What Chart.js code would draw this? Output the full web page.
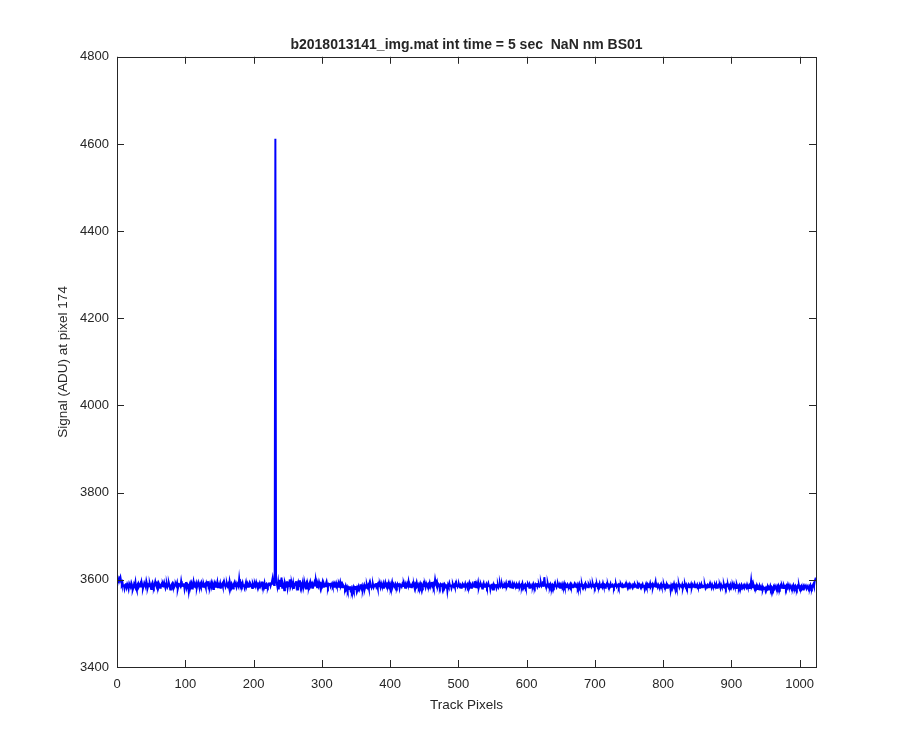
<!DOCTYPE html>
<html>
<head>
<meta charset="utf-8">
<script src="https://cdn.jsdelivr.net/npm/chart.js@4"></script>
<style>
  html, body { margin: 0; padding: 0; background: #fff; }
  #wrap { width: 900px; height: 750px; }
</style>
</head>
<body>
<div id="wrap"><canvas id="plot" width="900" height="750"></canvas></div>
<script>
// Signal (ADU) along the track, one value per pixel
const signal = [
  3592,3598,3604,3601,3606,3597,3590,3594,3585,3589,3580,3588,3592,3583,3590,3586,3579,3591,3587,3584,3593,3588,3577,3582,3590,3586,3595,3581,3576,3589,3592,3584,
  3587,3591,3583,3595,3588,3580,3586,3593,3589,3584,3597,3590,3582,3588,3585,3592,3586,3579,3590,3594,3587,3583,3589,3596,3588,3584,3591,3586,3593,3589,3582,3587,
  3590,3585,3592,3588,3594,3586,3581,3589,3591,3584,3588,3593,3587,3578,3585,3589,3592,3586,3590,3584,3588,3591,3587,3593,3579,3586,3590,3588,3585,3597,3587,3589,
  3586,3592,3579,3588,3595,3583,3590,3587,3574,3589,3593,3585,3591,3580,3588,3596,3584,3590,3586,3592,3582,3589,3594,3587,3581,3590,3585,3593,3588,3584,3591,3586,
  3589,3583,3592,3587,3597,3585,3590,3582,3588,3594,3586,3591,3579,3588,3593,3584,3590,3587,3595,3583,3589,3586,3592,3580,3588,3591,3585,3593,3587,3590,3584,3589,
  3592,3586,3590,3583,3597,3589,3585,3591,3587,3580,3590,3594,3586,3588,3583,3592,3589,3585,3602,3588,3584,3591,3587,3593,3585,3590,3582,3588,3595,3586,3591,3584,
  3589,3593,3585,3590,3587,3581,3592,3588,3584,3591,3586,3594,3588,3583,3590,3587,3592,3585,3589,3596,3584,3590,3586,3593,3581,3589,3591,3587,3584,3590,3588,3594,
  3586,3591,3596,3604,3592,3588,3590,4612,3594,3593,3584,3595,3578,3600,3586,3589,3605,3582,3592,3587,3576,3594,3589,3584,3597,3581,3590,3586,3601,3583,3588,3592,
  3585,3593,3579,3590,3588,3597,3584,3589,3576,3592,3586,3599,3583,3590,3587,3594,3581,3588,3592,3585,3590,3578,3593,3587,3584,3591,3596,3586,3589,3582,3590,3587,
  3593,3585,3600,3588,3583,3591,3586,3595,3589,3581,3590,3587,3594,3584,3592,3588,3585,3591,3596,3587,3583,3590,3588,3593,3585,3589,3592,3586,3590,3584,3591,3588,
  3593,3587,3590,3584,3592,3588,3595,3586,3590,3583,3589,3586,3584,3580,3586,3579,3583,3576,3582,3579,3585,3577,3581,3574,3580,3584,3577,3582,3579,3586,3575,3583,
  3580,3585,3578,3583,3590,3581,3586,3577,3584,3588,3579,3585,3582,3589,3583,3587,3580,3591,3584,3588,3582,3586,3590,3583,3587,3585,3592,3584,3588,3581,3590,3586,
  3589,3583,3592,3587,3585,3591,3580,3588,3594,3586,3583,3590,3587,3593,3584,3589,3582,3588,3595,3585,3590,3586,3583,3591,3588,3584,3590,3586,3592,3581,3589,3587,
  3584,3590,3586,3593,3588,3582,3589,3585,3591,3587,3596,3584,3590,3586,3583,3589,3592,3585,3588,3581,3590,3587,3594,3586,3589,3583,3588,3592,3585,3590,3587,3584,
  3591,3586,3589,3583,3592,3588,3585,3590,3587,3593,3584,3589,3595,3586,3590,3583,3588,3601,3592,3587,3594,3585,3590,3588,3583,3589,3586,3592,3580,3588,3584,3590,
  3587,3582,3590,3575,3588,3584,3592,3586,3589,3581,3587,3590,3585,3588,3583,3591,3586,3589,3584,3587,3590,3585,3588,3582,3586,3590,3584,3588,3586,3591,3583,3587,
  3590,3584,3588,3593,3585,3589,3582,3587,3591,3586,3584,3597,3588,3583,3590,3586,3594,3582,3588,3585,3591,3587,3580,3589,3593,3584,3588,3586,3590,3583,3587,3592,
  3585,3589,3578,3586,3591,3583,3588,3576,3587,3584,3590,3581,3586,3589,3583,3587,3592,3585,3588,3590,3584,3587,3583,3589,3586,3592,3584,3588,3585,3598,3587,3583,
  3590,3586,3582,3589,3585,3591,3587,3584,3589,3582,3588,3586,3591,3583,3587,3589,3585,3592,3586,3584,3588,3590,3583,3587,3585,3591,3588,3582,3589,3586,3584,3588,
  3585,3591,3587,3583,3589,3586,3592,3584,3588,3590,3585,3587,3593,3586,3589,3597,3584,3606,3591,3586,3583,3589,3592,3585,3588,3584,3590,3586,3582,3589,3587,3584,
  3590,3585,3588,3583,3587,3591,3586,3589,3582,3588,3585,3590,3584,3587,3592,3585,3589,3583,3587,3590,3586,3584,3588,3591,3585,3589,3583,3587,3586,3590,3584,3588,
  3585,3589,3582,3587,3591,3584,3588,3586,3590,3583,3587,3585,3589,3592,3584,3588,3586,3583,3590,3587,3585,3589,3584,3588,3591,3585,3587,3583,3589,3586,3590,3584,
  3588,3585,3591,3583,3587,3589,3584,3592,3586,3588,3582,3587,3590,3585,3589,3583,3588,3586,3591,3584,3587,3589,3585,3582,3588,3586,3590,3584,3587,3589,3583,3588,
  3585,3590,3586,3583,3589,3587,3584,3588,3591,3585,3587,3582,3589,3586,3590,3584,3588,3585,3583,3589,3587,3591,3584,3588,3586,3582,3589,3585,3590,3587,3583,3588,
  3586,3590,3584,3588,3579,3587,3591,3585,3589,3583,3588,3586,3592,3584,3587,3590,3582,3588,3585,3589,3596,3584,3587,3583,3589,3586,3581,3588,3591,3585,3587,3584,
  3589,3583,3587,3585,3590,3582,3588,3586,3584,3589,3576,3587,3583,3588,3585,3591,3584,3586,3589,3582,3587,3585,3590,3583,3588,3586,3584,3589,3581,3587,3585,3590,
  3584,3588,3582,3586,3589,3583,3587,3585,3590,3582,3588,3584,3586,3591,3583,3587,3585,3589,3584,3586,3582,3588,3585,3590,3583,3587,3586,3584,3589,3582,3587,3585,
  3588,3583,3586,3590,3584,3587,3582,3589,3585,3586,3583,3588,3584,3590,3582,3586,3588,3584,3587,3581,3589,3585,3586,3583,3590,3584,3587,3582,3588,3585,3589,3583,
  3587,3584,3589,3582,3586,3588,3583,3590,3585,3587,3581,3589,3584,3586,3582,3588,3585,3583,3589,3586,3584,3587,3582,3588,3585,3583,3589,3584,3586,3581,3587,3585,
  3599,3584,3587,3583,3586,3580,3585,3582,3587,3579,3584,3581,3586,3578,3583,3580,3585,3577,3582,3579,3584,3576,3582,3580,3585,3578,3583,3581,3586,3579,3584,3582,
  3578,3584,3580,3586,3582,3579,3585,3581,3587,3583,3580,3586,3582,3588,3584,3581,3587,3583,3585,3580,3586,3582,3589,3584,3581,3587,3583,3580,3585,3582,3588,3584,
  3581,3586,3583,3579,3585,3582,3587,3580,3584,3581,3586,3583,3578,3585,3582,3587,3584,3580,3586,3583,3579,3585,3582,3588,3584,3581,3587,3590,3585,3596,3601,3598
];

const xTicks = [0, 100, 200, 300, 400, 500, 600, 700, 800, 900, 1000];
const yTicks = [3400, 3600, 3800, 4000, 4200, 4400, 4600, 4800];

const titleText = 'b2018013141_img.mat int time = 5 sec  NaN nm BS01';
const xLabel = 'Track Pixels';
const yLabel = 'Signal (ADU) at pixel 174';

const FONT = '"Liberation Sans", Arial, Helvetica, sans-serif';
const INK = '#262626';

// track pixel index starts at 1
const points = signal.map((v, i) => ({ x: i + 1, y: v }));

// MATLAB style box with inward ticks on all four sides
const boxPlugin = {
    id: 'matlabBox',
    afterDraw(chart) {
        const { ctx, chartArea: a, scales } = chart;
        const len = 7;
        ctx.save();
        ctx.strokeStyle = INK;
        ctx.lineWidth = 1;
        ctx.beginPath();
        xTicks.forEach(t => {
            const px = Math.round(scales.x.getPixelForValue(t)) + 0.5;
            ctx.moveTo(px, a.bottom); ctx.lineTo(px, a.bottom - len);
            ctx.moveTo(px, a.top); ctx.lineTo(px, a.top + len);
        });
        yTicks.forEach(t => {
            const py = Math.round(scales.y.getPixelForValue(t)) + 0.5;
            ctx.moveTo(a.left, py); ctx.lineTo(a.left + len, py);
            ctx.moveTo(a.right, py); ctx.lineTo(a.right - len, py);
        });
        ctx.stroke();
        ctx.strokeRect(Math.round(a.left) + 0.5, Math.round(a.top) + 0.5,
            Math.round(a.right - a.left), Math.round(a.bottom - a.top));
        ctx.restore();
    }
};

new Chart(document.getElementById('plot'), {
    type: 'line',
    data: {
        datasets: [{
            data: points,
            borderColor: '#0000ff',
            borderWidth: 2,
            pointRadius: 0,
            tension: 0,
            fill: false
        }]
    },
    options: {
        responsive: false,
        animation: false,
        events: [],
        layout: { padding: { top: 0, right: 84, bottom: 0, left: 0 } },
        plugins: {
            legend: { display: false },
            tooltip: { enabled: false },
            title: {
                display: true,
                text: titleText,
                fullSize: false,
                color: INK,
                font: { family: FONT, size: 14, weight: 'bold' },
                padding: { top: 37, bottom: 3 }
            }
        },
        scales: {
            x: {
                type: 'linear',
                min: 0,
                max: 1024,
                afterFit(s) { s.height = 83; },
                afterBuildTicks(s) { s.ticks = xTicks.map(v => ({ value: v })); },
                grid: { display: false, drawTicks: false },
                border: { display: false },
                ticks: { color: INK, font: { family: FONT, size: 13 }, padding: 10, maxRotation: 0, autoSkip: false,
                         callback: v => String(v) },
                title: { display: true, text: xLabel, color: INK, font: { family: FONT, size: 13.5 }, padding: { bottom: 37 } }
            },
            y: {
                type: 'linear',
                min: 3400,
                max: 4800,
                afterFit(s) { s.width = 117; },
                afterBuildTicks(s) { s.ticks = yTicks.map(v => ({ value: v })); },
                grid: { display: false, drawTicks: false },
                border: { display: false },
                ticks: { color: INK, font: { family: FONT, size: 13 }, padding: 8, autoSkip: false,
                         callback: v => String(v) },
                title: { display: true, text: yLabel, color: INK, font: { family: FONT, size: 13.5 }, padding: { top: 55 } }
            }
        }
    },
    plugins: [boxPlugin]
});
</script>
</body>
</html>
